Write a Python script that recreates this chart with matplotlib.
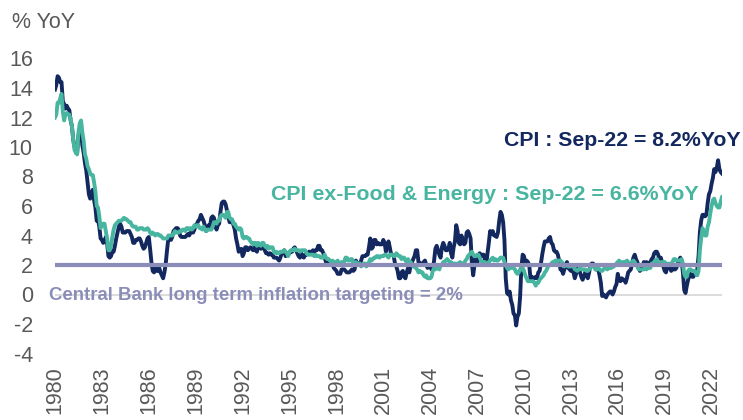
import matplotlib
matplotlib.use("Agg")
import matplotlib.pyplot as plt
import numpy as np

plt.rcParams['font.family'] = ['Liberation Sans', 'DejaVu Sans']

start_year = 1980
cpi = [
    13.9, 14.2, 14.8, 14.7, 14.4, 14.4, 13.1, 12.9, 12.6, 12.8, 12.6, 12.5,  # 1980
    11.8, 11.4, 10.5, 10.0, 9.8, 9.6, 10.8, 10.8, 11.0, 10.1, 9.6, 8.9,      # 1981
    8.4, 7.6, 6.8, 6.5, 6.7, 7.1, 6.4, 5.9, 5.0, 5.1, 4.6, 3.8,              # 1982
    3.7, 3.5, 3.6, 3.9, 3.5, 2.6, 2.5, 2.6, 2.9, 2.9, 3.3, 3.8,              # 1983
    4.2, 4.6, 4.8, 4.6, 4.2, 4.2, 4.2, 4.3, 4.3, 4.3, 4.1, 3.9,              # 1984
    3.5, 3.5, 3.7, 3.7, 3.8, 3.8, 3.6, 3.3, 3.1, 3.2, 3.5, 3.8,              # 1985
    3.9, 3.1, 2.2, 1.6, 1.5, 1.8, 1.6, 1.6, 1.8, 1.5, 1.3, 1.1,              # 1986
    1.5, 2.1, 3.0, 3.8, 3.9, 3.7, 3.9, 4.3, 4.4, 4.5, 4.5, 4.4,              # 1987
    4.0, 3.9, 3.9, 3.9, 3.9, 4.0, 4.1, 4.0, 4.2, 4.2, 4.2, 4.4,              # 1988
    4.7, 4.8, 5.0, 5.1, 5.4, 5.2, 5.0, 4.7, 4.3, 4.5, 4.7, 4.6,              # 1989
    5.2, 5.3, 5.2, 4.7, 4.4, 4.7, 4.8, 5.6, 6.2, 6.3, 6.3, 6.1,              # 1990
    5.7, 5.3, 4.9, 4.9, 5.0, 4.7, 4.4, 3.8, 3.4, 2.9, 3.0, 3.1,              # 1991
    2.6, 2.8, 3.2, 3.2, 3.0, 3.1, 3.2, 3.1, 3.0, 3.2, 3.0, 2.9,              # 1992
    3.3, 3.2, 3.1, 3.2, 3.2, 3.0, 2.8, 2.8, 2.7, 2.8, 2.7, 2.7,              # 1993
    2.5, 2.5, 2.5, 2.4, 2.3, 2.5, 2.8, 2.9, 3.0, 2.6, 2.7, 2.7,              # 1994
    2.8, 2.9, 2.9, 3.1, 3.2, 3.0, 2.8, 2.6, 2.5, 2.8, 2.6, 2.5,              # 1995
    2.7, 2.7, 2.8, 2.9, 2.9, 2.8, 3.0, 2.9, 3.0, 3.0, 3.3, 3.3,              # 1996
    3.0, 3.0, 2.8, 2.5, 2.2, 2.3, 2.2, 2.2, 2.2, 2.1, 1.8, 1.7,              # 1997
    1.6, 1.4, 1.4, 1.4, 1.7, 1.7, 1.7, 1.6, 1.5, 1.5, 1.5, 1.6,              # 1998
    1.7, 1.6, 1.7, 2.3, 2.1, 2.0, 2.1, 2.3, 2.6, 2.6, 2.6, 2.7,              # 1999
    2.7, 3.2, 3.8, 3.1, 3.2, 3.7, 3.7, 3.4, 3.5, 3.4, 3.4, 3.4,              # 2000
    3.7, 3.5, 2.9, 3.3, 3.6, 3.2, 2.7, 2.7, 2.6, 2.1, 1.9, 1.6,              # 2001
    1.1, 1.1, 1.5, 1.6, 1.2, 1.1, 1.5, 1.8, 1.5, 2.0, 2.2, 2.4,              # 2002
    2.6, 3.0, 3.0, 2.2, 2.1, 2.1, 2.1, 2.2, 2.3, 2.0, 1.8, 1.9,              # 2003
    1.9, 1.7, 1.7, 2.3, 3.1, 3.3, 3.0, 2.7, 2.5, 3.2, 3.5, 3.3,              # 2004
    3.0, 3.0, 3.1, 3.5, 2.8, 2.5, 3.2, 3.6, 4.7, 4.3, 3.5, 3.4,              # 2005
    4.0, 3.6, 3.4, 3.5, 4.2, 4.3, 4.1, 3.8, 2.1, 1.3, 2.0, 2.5,              # 2006
    2.1, 2.4, 2.8, 2.6, 2.7, 2.7, 2.4, 2.0, 2.8, 3.5, 4.3, 4.1,              # 2007
    4.3, 4.0, 4.0, 3.9, 4.2, 5.0, 5.6, 5.4, 4.9, 3.7, 1.1, 0.1,              # 2008
    0.0, 0.2, -0.4, -0.7, -1.3, -1.4, -2.1, -1.5, -1.3, -0.2, 1.8, 2.7,      # 2009
    2.6, 2.1, 2.3, 2.2, 2.0, 1.1, 1.2, 1.1, 1.1, 1.2, 1.1, 1.5,              # 2010
    1.6, 2.1, 2.7, 3.2, 3.6, 3.6, 3.6, 3.8, 3.9, 3.5, 3.4, 3.0,              # 2011
    2.9, 2.9, 2.7, 2.3, 1.7, 1.7, 1.4, 1.7, 2.0, 2.2, 1.8, 1.7,              # 2012
    1.6, 2.0, 1.5, 1.1, 1.4, 1.8, 2.0, 1.5, 1.2, 1.0, 1.2, 1.5,              # 2013
    1.6, 1.1, 1.5, 2.0, 2.1, 2.1, 2.0, 1.7, 1.7, 1.7, 1.3, 0.8,              # 2014
    -0.1, 0.0, -0.1, -0.2, 0.0, 0.1, 0.2, 0.2, 0.0, 0.2, 0.5, 0.7,           # 2015
    1.4, 1.0, 0.9, 1.1, 1.0, 1.0, 0.8, 1.1, 1.5, 1.6, 1.7, 2.1,              # 2016
    2.5, 2.7, 2.4, 2.2, 1.9, 1.6, 1.7, 1.9, 2.2, 2.0, 2.2, 2.1,              # 2017
    2.1, 2.2, 2.4, 2.5, 2.8, 2.9, 2.9, 2.7, 2.3, 2.5, 2.2, 1.9,              # 2018
    1.6, 1.5, 1.9, 2.0, 1.8, 1.6, 1.8, 1.7, 1.7, 1.8, 2.1, 2.3,              # 2019
    2.5, 2.3, 1.5, 0.3, 0.1, 0.6, 1.0, 1.3, 1.4, 1.2, 1.2, 1.4,              # 2020
    1.4, 1.7, 2.6, 4.2, 5.0, 5.4, 5.4, 5.3, 5.4, 6.2, 6.8, 7.0,              # 2021
    7.5, 7.9, 8.5, 8.3, 8.6, 9.1, 8.5, 8.3, 8.2,                              # 2022
]
core = [
    12.0, 12.2, 13.0, 13.0, 13.3, 13.6, 12.4, 11.8, 12.2, 12.3, 12.2, 12.2,  # 1980
    11.9, 11.4, 10.5, 9.8, 9.6, 9.5, 11.0, 11.6, 11.8, 11.0, 10.4, 9.5,      # 1981
    9.2, 8.7, 8.5, 8.2, 8.1, 8.1, 7.6, 7.0, 6.0, 5.9, 5.3, 4.5,              # 1982
    4.7, 4.8, 4.8, 4.3, 3.8, 3.0, 3.0, 3.3, 3.9, 4.4, 4.7, 4.8,              # 1983
    4.9, 5.0, 5.0, 5.0, 5.1, 5.2, 5.1, 5.1, 5.0, 4.9, 4.9, 4.7,              # 1984
    4.6, 4.6, 4.6, 4.4, 4.4, 4.5, 4.5, 4.5, 4.4, 4.4, 4.4, 4.5,              # 1985
    4.4, 4.2, 4.1, 4.2, 4.1, 4.0, 4.1, 4.1, 4.0, 4.0, 3.9, 3.8,              # 1986
    3.8, 3.8, 3.8, 4.0, 4.0, 4.0, 4.0, 4.1, 4.3, 4.2, 4.2, 4.2,              # 1987
    4.3, 4.3, 4.4, 4.4, 4.3, 4.5, 4.5, 4.4, 4.5, 4.4, 4.5, 4.7,              # 1988
    4.6, 4.7, 4.7, 4.5, 4.5, 4.4, 4.6, 4.4, 4.3, 4.4, 4.4, 4.4,              # 1989
    4.4, 4.6, 4.9, 4.9, 4.8, 5.0, 5.0, 5.3, 5.4, 5.4, 5.3, 5.2,              # 1990
    5.6, 5.6, 5.2, 5.1, 5.1, 4.8, 4.8, 4.6, 4.5, 4.4, 4.5, 4.4,              # 1991
    3.9, 3.8, 3.9, 3.9, 3.8, 3.8, 3.6, 3.5, 3.4, 3.5, 3.5, 3.3,              # 1992
    3.5, 3.4, 3.3, 3.5, 3.5, 3.3, 3.2, 3.3, 3.1, 3.2, 3.2, 3.2,              # 1993
    2.9, 2.8, 2.9, 2.8, 2.8, 2.9, 2.9, 2.9, 3.0, 2.9, 2.8, 2.6,              # 1994
    2.9, 3.0, 3.0, 3.0, 3.1, 3.0, 3.0, 3.0, 2.9, 3.0, 3.0, 3.0,              # 1995
    3.0, 2.8, 2.7, 2.7, 2.7, 2.7, 2.7, 2.6, 2.7, 2.6, 2.6, 2.6,              # 1996
    2.5, 2.5, 2.5, 2.7, 2.5, 2.4, 2.4, 2.3, 2.2, 2.3, 2.2, 2.2,              # 1997
    2.2, 2.3, 2.1, 2.1, 2.2, 2.2, 2.2, 2.5, 2.5, 2.3, 2.3, 2.4,              # 1998
    2.4, 2.1, 2.1, 2.2, 2.0, 2.1, 2.1, 1.9, 2.0, 2.1, 2.1, 1.9,              # 1999
    2.0, 2.2, 2.4, 2.3, 2.4, 2.5, 2.5, 2.6, 2.6, 2.5, 2.6, 2.6,              # 2000
    2.6, 2.7, 2.7, 2.6, 2.5, 2.7, 2.7, 2.7, 2.6, 2.6, 2.8, 2.7,              # 2001
    2.6, 2.6, 2.4, 2.5, 2.5, 2.3, 2.2, 2.4, 2.2, 2.2, 2.0, 1.9,              # 2002
    1.9, 1.8, 1.7, 1.5, 1.6, 1.5, 1.5, 1.3, 1.2, 1.3, 1.1, 1.1,              # 2003
    1.1, 1.2, 1.6, 1.8, 1.7, 1.9, 1.8, 1.7, 2.0, 2.0, 2.2, 2.2,              # 2004
    2.3, 2.4, 2.3, 2.2, 2.2, 2.0, 2.1, 2.1, 2.0, 2.1, 2.1, 2.2,              # 2005
    2.1, 2.1, 2.1, 2.3, 2.4, 2.6, 2.7, 2.8, 2.9, 2.7, 2.6, 2.6,              # 2006
    2.7, 2.7, 2.5, 2.3, 2.2, 2.2, 2.2, 2.1, 2.1, 2.2, 2.3, 2.4,              # 2007
    2.5, 2.3, 2.4, 2.3, 2.3, 2.4, 2.5, 2.5, 2.5, 2.2, 2.0, 1.8,              # 2008
    1.7, 1.8, 1.8, 1.9, 1.8, 1.7, 1.5, 1.4, 1.5, 1.7, 1.7, 1.8,              # 2009
    1.6, 1.3, 1.1, 0.9, 0.9, 0.9, 0.9, 0.9, 0.8, 0.6, 0.8, 0.8,              # 2010
    1.0, 1.1, 1.2, 1.3, 1.5, 1.6, 1.8, 2.0, 2.0, 2.1, 2.2, 2.2,              # 2011
    2.3, 2.2, 2.3, 2.3, 2.3, 2.2, 2.1, 1.9, 2.0, 2.0, 1.9, 1.9,              # 2012
    1.9, 2.0, 1.9, 1.7, 1.7, 1.6, 1.7, 1.8, 1.7, 1.7, 1.7, 1.7,              # 2013
    1.6, 1.6, 1.7, 1.8, 2.0, 1.9, 1.9, 1.7, 1.7, 1.8, 1.7, 1.6,              # 2014
    1.6, 1.7, 1.8, 1.8, 1.7, 1.8, 1.8, 1.8, 1.9, 1.9, 2.0, 2.1,              # 2015
    2.2, 2.3, 2.2, 2.1, 2.2, 2.2, 2.2, 2.3, 2.2, 2.1, 2.1, 2.2,              # 2016
    2.3, 2.2, 2.0, 1.9, 1.7, 1.7, 1.7, 1.7, 1.7, 1.8, 1.7, 1.8,              # 2017
    1.8, 1.8, 2.1, 2.1, 2.2, 2.3, 2.4, 2.2, 2.2, 2.1, 2.2, 2.2,              # 2018
    2.2, 2.1, 2.0, 2.1, 2.0, 2.1, 2.2, 2.4, 2.4, 2.3, 2.3, 2.3,              # 2019
    2.3, 2.4, 2.1, 1.4, 1.2, 1.2, 1.6, 1.7, 1.7, 1.6, 1.6, 1.6,              # 2020
    1.4, 1.3, 1.6, 3.0, 3.8, 4.5, 4.3, 4.0, 4.0, 4.6, 4.9, 5.5,              # 2021
    6.0, 6.4, 6.5, 6.2, 6.0, 5.9, 5.9, 6.3, 6.6,                              # 2022
]
target = 2.0
tick_years = list(range(1980, 2023, 3))
yticks = list(range(-4, 17, 2))

cpi_label = "CPI : Sep-22 = 8.2%YoY"
core_label = "CPI ex-Food & Energy : Sep-22 = 6.6%YoY"
target_label = "Central Bank long term inflation targeting = 2%"

NAVY = "#13285E"
TEAL = "#48B5A0"
LAV = "#8A8DB8"
GREY = "#595959"

x = start_year + np.arange(len(cpi)) / 12.0

W, H = 743, 420
fig = plt.figure(figsize=(W / 100, H / 100), dpi=100)
ax_l, ax_r = 55, 722
ax_t, ax_b = 58.5, 353.5
ax = fig.add_axes([ax_l / W, 1 - ax_b / H, (ax_r - ax_l) / W, (ax_b - ax_t) / H])

ax.axhline(0, color="#D9D9D9", lw=1.3, zorder=1)
ax.plot(x, cpi, color=NAVY, lw=2.8, zorder=3, solid_joinstyle='round')
ax.plot(x, core, color=TEAL, lw=2.8, zorder=4, solid_joinstyle='round')
ax.plot([x[0], x[-1]], [target, target], color=LAV, lw=3.0, zorder=5,
        solid_capstyle='butt')

ax.set_xlim(x[0], x[-1])
ax.set_ylim(-4, 16)
ax.set_xticks(tick_years)
ax.set_xticklabels([str(t) for t in tick_years], rotation=90, fontsize=15.5,
                   color=GREY)
ax.set_yticks(yticks)
ax.set_yticklabels([str(t) for t in yticks], fontsize=15.5, color=GREY)
ax.tick_params(axis='x', length=0, pad=9)
ax.tick_params(axis='y', length=0, pad=16)
for s in ax.spines.values():
    s.set_visible(False)

fig.text(12 / W, 1 - 22 / H, "% YoY", fontsize=15.5, color=GREY,
         ha='left', va='center')

fig.text(622 / W, 1 - 141 / H, cpi_label, fontsize=15.3, fontweight='bold',
         color=NAVY, ha='center', va='center')
fig.text(485 / W, 1 - 194 / H, core_label, fontsize=15.4, fontweight='bold',
         color=TEAL, ha='center', va='center')
fig.text(49 / W, 1 - 295 / H, target_label, fontsize=13.4, fontweight='bold',
         color=LAV, ha='left', va='center', zorder=6)

fig.savefig("out.png", dpi=100)
